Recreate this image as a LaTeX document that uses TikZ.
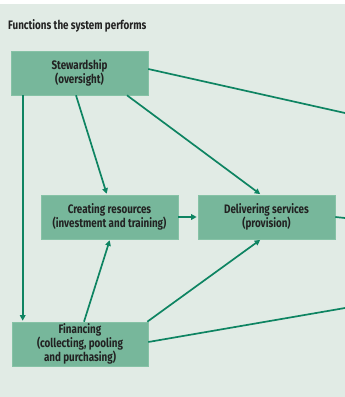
\documentclass[tikz,border=0pt]{standalone}
\usepackage{fontspec}
\setmainfont{Fira Sans}
\newfontfamily\lblfont[FakeStretch=0.8]{Fira Sans}
\usetikzlibrary{arrows.meta}
\definecolor{panel}{HTML}{E1EBE5}
\definecolor{boxfill}{HTML}{77B79B}
\definecolor{boxedge}{HTML}{86C2A6}
\definecolor{link}{HTML}{0E8462}
\definecolor{ink}{HTML}{222222}
\tikzset{
  fnbox/.style={draw=boxedge, line width=0.6pt, fill=boxfill, minimum width=137pt,
    minimum height=44pt, inner sep=0pt, align=center, text=ink,
    font=\lblfont\bfseries\fontsize{12.3}{12.9}\selectfont},
  link/.style={draw=link, line width=1.7pt},
  arr/.style={link, -{Triangle[length=5.5pt,width=5.5pt]}, shorten >=1pt},
}
\begin{document}
\begin{tikzpicture}[x=1pt, y=-1pt]
  \useasboundingbox (0,0) rectangle (345,397);
  \fill[panel] (0,4) rectangle (345,397);
  \node[anchor=base west, text=ink, inner sep=0pt,
        font=\lblfont\bfseries\fontsize{12.3}{13}\selectfont] (title) at (8,29)
        {Functions the system performs};

  \node[fnbox] (stew) at (79.5,73) {Stewardship\\(oversight)};
  \node[fnbox] (create) at (109.5,217) {Creating resources\\(investment and training)};
  \node[fnbox] (deliver) at (266.5,217) {Delivering services\\(provision)};
  \node[fnbox, minimum width=136pt] (fin) at (80,344) {Financing\\(collecting, pooling\\and purchasing)};

  \coordinate (outA) at (345,113);
  \coordinate (outB) at (345,218);
  \coordinate (outC) at (345,308);

  % stewardship oversees the other three functions
  \draw[arr] ([xshift=12pt]stew.south west) -- ([xshift=11pt]fin.north west);
  \draw[arr] ([xshift=-3.5pt]stew.south) -- ([xshift=-2.5pt]create.north);
  \draw[arr] ([xshift=47.5pt]stew.south) -- ([xshift=-5.5pt]deliver.north);
  \draw[link] ([yshift=4pt]stew.east) -- (outA);

  % resources feed service delivery
  \draw[arr] (create.east) -- (deliver.west);
  \draw[link] (deliver.east) -- (outB);

  % financing flows
  \draw[arr] ([xshift=4pt]fin.north) -- ([xshift=0.5pt]create.south);
  \draw[arr] ([xshift=-1pt]fin.north east) -- ([xshift=-5.5pt]deliver.south);
  \draw[link] ([yshift=2pt]fin.east) -- (outC);
\end{tikzpicture}
\end{document}
